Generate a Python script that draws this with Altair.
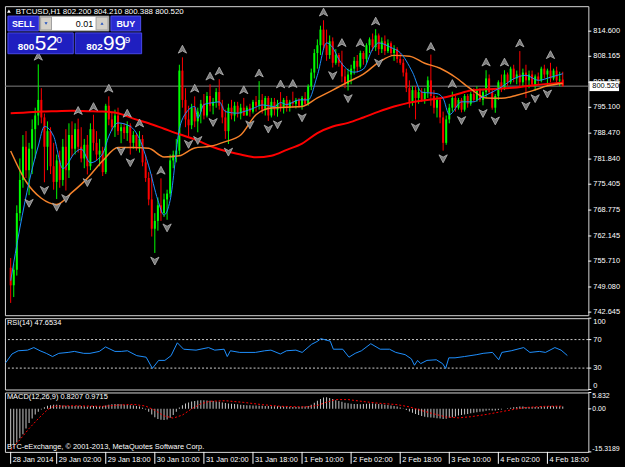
import altair as alt
import pandas as pd

# ---------------- data ----------------
opens = [754.0, 749.5, 753.5, 768.0, 776.5, 785.0, 779.0, 784.5, 789.5, 793.0,
         797.0, 792.5, 785.0, 789.0, 780.0, 776.0, 781.5, 776.5, 785.0, 779.0,
         788.0, 784.5, 789.5, 785.0, 782.0, 785.5, 780.0, 789.5, 786.0, 783.0,
         784.0, 778.5, 795.5, 792.0, 790.0, 793.0, 789.0, 790.0, 788.5, 790.5,
         786.0, 788.0, 785.0, 787.0, 781.0, 777.0, 771.5, 764.0, 766.0, 770.0,
         768.0, 771.5, 773.0, 781.5, 783.0, 784.0, 804.5, 797.0, 792.0, 790.5,
         795.0, 791.5, 794.0, 796.0, 793.0, 798.0, 795.5, 796.5, 799.0, 795.5,
         792.5, 789.0, 795.0, 793.0, 795.5, 793.5, 795.0, 793.0, 795.0, 794.0,
         796.5, 795.5, 797.0, 794.5, 797.5, 793.0, 796.5, 794.5, 796.0, 795.0,
         797.0, 795.0, 796.5, 796.0, 797.0, 795.5, 797.5, 796.0, 800.5, 804.0,
         809.0, 811.0, 815.0, 811.0, 808.5, 812.0, 806.5, 808.5, 806.5, 803.0,
         801.0, 803.5, 805.0, 807.0, 805.5, 809.0, 807.5, 811.0, 812.5, 810.5,
         813.5, 810.0, 812.0, 809.5, 811.5, 809.0, 810.0, 807.5, 806.5, 804.0,
         800.0, 796.5, 799.5, 797.5, 799.0, 797.0, 799.0, 802.0, 798.0, 795.0,
         797.0, 792.5, 786.0, 792.0, 795.0, 797.5, 795.0, 797.0, 794.5, 798.0,
         796.0, 798.5, 797.0, 799.5, 797.0, 799.0, 802.5, 799.0, 795.0, 798.0,
         801.5, 800.0, 803.5, 801.5, 805.0, 802.5, 803.5, 801.5, 804.0, 802.0,
         803.5, 801.0, 803.0, 802.0, 805.0, 803.5, 804.5, 802.5, 804.5, 802.0,
         802.2]
highs = [756.5, 755.0, 770.0, 782.0, 788.0, 789.0, 786.0, 792.0, 795.0, 806.1,
         800.0, 793.5, 791.5, 790.0, 786.0, 783.0, 784.0, 787.0, 789.5, 791.0,
         791.5, 791.0, 792.2, 790.0, 787.0, 788.0, 791.0, 793.2, 789.0, 787.0,
         785.0, 796.0, 797.9, 794.0, 794.5, 795.0, 791.0, 791.0, 791.5, 791.0,
         789.0, 788.5, 789.0, 788.0, 783.0, 778.5, 778.0, 768.0, 772.0, 776.9,
         773.0, 774.0, 783.0, 784.0, 787.0, 806.0, 807.9, 800.0, 795.5, 796.0,
         797.9, 795.0, 797.0, 798.5, 799.0, 801.0, 797.5, 800.0, 802.3, 797.0,
         794.5, 796.0, 797.0, 796.5, 796.5, 796.0, 797.5, 795.5, 796.0, 797.0,
         798.0, 801.8, 798.5, 798.0, 798.0, 797.5, 797.5, 797.0, 799.0, 797.5,
         798.0, 797.0, 799.1, 797.5, 797.5, 798.0, 799.0, 801.0, 805.0, 810.0,
         812.5, 816.0, 817.4, 815.0, 813.5, 813.0, 810.0, 809.0, 809.6, 805.0,
         805.0, 806.0, 808.0, 808.5, 809.6, 809.5, 811.5, 813.0, 814.0, 815.1,
         814.0, 813.0, 813.5, 812.5, 812.0, 811.0, 810.5, 809.0, 807.5, 805.0,
         802.0, 800.5, 800.5, 800.0, 800.0, 800.0, 803.0, 808.6, 799.5, 798.0,
         797.5, 794.0, 793.0, 796.0, 799.1, 798.0, 797.5, 797.5, 798.5, 798.5,
         799.0, 800.0, 800.5, 800.0, 799.5, 804.6, 803.5, 800.0, 798.5, 802.0,
         803.5, 804.6, 804.0, 805.5, 806.0, 804.5, 809.5, 805.0, 806.0, 804.5,
         804.5, 803.5, 804.0, 805.5, 806.0, 805.0, 806.5, 805.0, 805.5, 804.2,
         804.21]
lows = [745.0, 746.5, 752.0, 766.0, 774.5, 777.0, 772.6, 778.0, 782.0, 790.5,
        791.0, 775.9, 779.0, 778.0, 774.0, 771.6, 774.5, 775.0, 773.8, 777.0,
        782.5, 783.0, 783.5, 781.0, 779.5, 777.9, 779.0, 784.0, 781.5, 780.0,
        777.5, 778.0, 790.5, 789.0, 787.5, 788.0, 785.9, 787.0, 786.5, 783.0,
        784.5, 784.0, 783.5, 780.0, 776.0, 770.0, 762.0, 757.8, 763.5, 766.0,
        767.0, 766.3, 772.0, 779.5, 781.0, 783.0, 795.0, 790.0, 787.7, 789.5,
        790.0, 788.7, 791.0, 792.0, 792.5, 794.0, 793.3, 795.0, 794.5, 791.0,
        787.0, 785.7, 792.0, 791.5, 792.5, 792.0, 792.9, 793.0, 792.7, 793.5,
        794.0, 794.5, 793.5, 793.0, 791.6, 792.5, 793.0, 792.7, 794.0, 793.5,
        794.0, 794.0, 795.0, 794.8, 795.0, 794.5, 795.5, 795.5, 799.5, 802.5,
        805.0, 808.5, 810.0, 807.0, 807.5, 805.3, 806.0, 805.5, 801.5, 800.0,
        799.4, 801.0, 803.5, 804.0, 805.0, 806.0, 806.5, 809.0, 809.5, 809.5,
        808.5, 809.0, 808.5, 809.0, 808.5, 807.0, 806.5, 806.0, 803.0, 799.0,
        795.0, 795.5, 792.0, 796.0, 796.5, 796.0, 797.5, 795.5, 793.5, 792.5,
        791.0, 784.0, 785.5, 791.0, 794.0, 794.0, 794.5, 793.8, 794.0, 795.0,
        795.5, 796.5, 796.5, 796.5, 795.6, 797.5, 798.5, 794.5, 793.7, 797.0,
        799.0, 799.5, 800.5, 801.0, 801.5, 801.0, 800.5, 800.5, 797.5, 800.0,
        800.5, 799.4, 801.0, 801.5, 802.5, 800.6, 801.5, 802.0, 801.5, 800.5,
        800.388]
closes = [749.5, 753.5, 768.0, 776.5, 785.0, 779.0, 784.5, 789.5, 793.0, 797.0,
          792.5, 785.0, 789.0, 780.0, 776.0, 781.5, 776.5, 785.0, 779.0, 788.0,
          784.5, 789.5, 785.0, 782.0, 785.5, 780.0, 789.5, 786.0, 783.0, 784.0,
          778.5, 795.5, 792.0, 790.0, 793.0, 789.0, 790.0, 788.5, 790.5, 786.0,
          788.0, 785.0, 787.0, 781.0, 777.0, 771.5, 764.0, 766.0, 770.0, 768.0,
          771.5, 773.0, 781.5, 783.0, 784.0, 804.5, 797.0, 792.0, 790.5, 795.0,
          791.5, 794.0, 796.0, 793.0, 798.0, 795.5, 796.5, 799.0, 795.5, 792.5,
          789.0, 795.0, 793.0, 795.5, 793.5, 795.0, 793.0, 795.0, 794.0, 796.5,
          795.5, 797.0, 794.5, 797.5, 793.0, 796.5, 794.5, 796.0, 795.0, 797.0,
          795.0, 796.5, 796.0, 797.0, 795.5, 797.5, 796.0, 800.5, 804.0, 809.0,
          811.0, 815.0, 811.0, 808.5, 812.0, 806.5, 808.5, 806.5, 803.0, 801.0,
          803.5, 805.0, 807.0, 805.5, 809.0, 807.5, 811.0, 812.5, 810.5, 813.5,
          810.0, 812.0, 809.5, 811.5, 809.0, 810.0, 807.5, 806.5, 804.0, 800.0,
          796.5, 799.5, 797.5, 799.0, 797.0, 799.0, 802.0, 798.0, 795.0, 797.0,
          792.5, 786.0, 792.0, 795.0, 797.5, 795.0, 797.0, 794.5, 798.0, 796.0,
          798.5, 797.0, 799.5, 797.0, 799.0, 802.5, 799.0, 795.0, 798.0, 801.5,
          800.0, 803.5, 801.5, 805.0, 802.5, 803.5, 801.5, 804.0, 802.0, 803.5,
          801.0, 803.0, 802.0, 805.0, 803.5, 804.5, 802.5, 804.5, 802.0, 802.2,
          800.52]

ma5_idx = list(range(0, 181, 5))
ma_red = [793.6, 793.75, 794.0, 794.1, 794.2, 794.1, 794.0, 793.6, 792.2, 791.0,
          789.6, 788.2, 786.9, 785.2, 783.9, 783.0, 782.3, 782.7, 784.2, 785.8,
          788.5, 790.2, 791.1, 792.5, 794.0, 795.3, 796.3, 796.9, 797.4, 798.3,
          799.4, 799.7, 799.9, 800.2, 800.7, 801.1, 801.4]
ma_orange = [783.9, 776.1, 771.8, 770.2, 773.3, 776.9, 781.4, 784.8, 784.8, 784.6,
             782.4, 782.7, 784.7, 785.1, 786.3, 788.0, 793.2, 794.9, 795.1, 795.3,
             797.5, 799.5, 801.6, 803.6, 806.6, 808.4, 808.2, 806.4, 805.1, 802.8,
             799.8, 797.5, 797.4, 798.2, 799.3, 800.6, 801.2]
blue_idx = [0, 3, 6, 9, 11, 14, 17, 21, 23, 26, 30, 32, 35, 39, 42, 45, 48, 50, 52, 55,
            57, 60, 61, 63, 66, 68, 70, 74, 76, 79, 82, 86, 88, 90, 94, 97, 100, 103, 105, 107,
            112, 115, 118, 120, 124, 127, 131, 134, 139, 141, 143, 147, 151, 153, 156, 160, 164, 168, 172, 176,
            180]
blue_val = [750.7, 764.2, 775.9, 785.2, 790.2, 787.7, 779.4, 783.5, 784.4, 780.9,
            783.2, 787.7, 791.1, 790.2, 787.0, 780.1, 771.3, 767.5, 771.3, 789.5,
            793.5, 795.3, 792.3, 795.8, 796.3, 796.5, 794.0, 793.6, 794.0, 794.8,
            795.7, 795.3, 796.3, 795.8, 797.0, 797.0, 803.3, 811.6, 810.4, 807.4,
            804.1, 804.9, 810.0, 811.6, 810.4, 809.1, 804.1, 799.0, 798.6, 797.4,
            793.2, 796.5, 796.5, 797.4, 798.6, 800.3, 802.4, 803.3, 802.0, 802.8,
            803.7]
frac_up_idx = [9, 22, 27, 32, 38, 42, 49, 56, 60, 65, 68, 76, 81, 88, 92, 102, 108, 114,
               119, 137, 144, 155, 161, 166, 176]
frac_dn_idx = [6, 11, 15, 18, 25, 36, 39, 47, 51, 58, 61, 66, 71, 78, 84, 87, 95, 105,
               110, 120, 132, 141, 147, 154, 158, 168, 171, 175]

rsi_idx = [0, 2, 4, 7, 9, 11, 13, 15, 17, 20, 22, 25, 27, 30, 32, 35, 37, 39, 42, 45,
           47, 49, 51, 53, 55, 57, 61, 65, 67, 70, 71, 72, 75, 80, 83, 85, 88, 90, 93, 95,
           98, 100, 101, 104, 105, 108, 110, 112, 114, 117, 120, 123, 125, 128, 130, 131, 132, 133, 135, 138,
           140, 141, 142, 144, 147, 151, 153, 156, 158, 159, 162, 166, 168, 171, 173, 176, 178, 180]
rsi_val = [37.6, 49.8, 54.3, 55.2, 58.8, 54.3, 50.7, 46.2, 50.7, 52.0,
           53.4, 50.7, 50.7, 53.4, 59.7, 53.4, 53.4, 54.3, 47.5, 45.3,
           29.6, 40.8, 40.8, 47.5, 65.5, 56.5, 55.2, 58.8, 55.2, 56.5,
           46.2, 54.3, 52.0, 52.0, 54.3, 55.2, 49.8, 54.3, 55.2, 52.0,
           63.3, 67.8, 71.3, 67.8, 56.5, 56.5, 45.3, 50.7, 54.3, 64.2,
           56.5, 56.5, 52.0, 48.9, 43.0, 34.0, 40.8, 36.3, 40.8, 41.7,
           36.3, 29.6, 44.4, 44.4, 46.2, 48.9, 50.7, 52.0, 41.7, 52.0,
           54.3, 58.8, 52.0, 53.4, 52.0, 58.8, 55.2, 47.6534]
rsi_levels = [30, 70]
rsi_ticks = [100, 70, 30, 0]

macd_hist = [-13.1, -12.5, -12.0, -10.5, -9.0, -7.0, -5.0, -3.4, -2.0, -1.0, -0.2, 0.6, 1.1,
             1.3, 1.5, 1.5, 1.4, 1.2, 1.1, 1.0, 1.0, 1.0, 1.1, 1.0, 0.9, 0.8, 0.9, 1.0, 0.9,
             0.8, 0.9, 1.2, 1.5, 1.6, 1.7, 1.7, 1.6, 1.5, 1.4, 1.3, 1.2, 1.0, 0.8, 0.4, -0.2, -1.0,
             -2.0, -3.0, -3.6, -3.9, -4.0, -3.8, -3.2, -2.2, -1.0, 0.5,
             1.3, 1.9, 2.3, 2.6, 2.8, 3.0, 3.1, 3.1, 3.0, 2.9, 2.8, 2.6, 2.5, 2.3, 2.1,
             1.9, 1.8, 1.7, 1.6, 1.5, 1.4, 1.3, 1.3, 1.2, 1.2, 1.1, 1.1, 1.0, 1.0, 0.9, 0.9,
             0.9, 0.8, 0.8, 0.8, 0.7, 0.7, 0.7, 0.7, 0.8, 0.8, 1.0,
             1.5, 2.2, 2.9, 3.5, 4.0, 4.1, 3.9, 3.5,
             3.1, 2.8, 2.5, 2.2, 2.0, 1.8, 1.7, 1.7, 1.6, 1.7, 1.8, 1.9, 1.9, 1.8, 1.7, 1.6,
             1.5, 1.4, 1.2, 1.0, 0.8, 0.5, 0.1, -0.4, -0.9,
             -1.4, -1.8, -2.2, -2.5, -2.8, -3.0, -3.1, -3.2, -3.3, -3.4, -3.6, -3.5, -3.2,
             -3.0, -2.7, -2.4, -2.2, -2.0, -1.8, -1.6, -1.4, -1.2, -1.0, -0.9, -0.7,
             -0.5, -0.6, -0.6, -0.4, -0.2, 0.0, 0.2, 0.4, 0.6, 0.7, 0.8, 0.8, 0.7, 0.7,
             0.7, 0.7, 0.7, 0.8, 0.8, 0.9, 0.9, 0.9, 0.9, 0.9, 0.8207]
sig_idx = [0, 3, 6, 9, 12, 14, 20, 30, 36, 40, 44, 47, 50, 53, 56, 59, 62, 65, 70, 76,
           82, 88, 96, 100, 103, 106, 110, 115, 120, 126, 130, 134, 138, 142, 146, 150, 155, 160, 164, 168,
           174, 180]
sig_val = [-14.7, -11.0, -7.0, -3.5, -0.3, 0.9, 1.1, 0.9, 1.4, 1.6,
           1.0, -0.5, -2.5, -3.3, -2.2, 0.0, 1.8, 2.7, 2.9, 2.3,
           1.5, 0.9, 0.7, 1.2, 2.4, 3.3, 3.3, 2.6, 2.0, 1.5,
           0.7, -0.6, -1.8, -2.9, -3.2, -2.8, -2.0, -1.0, -0.2, 0.5,
           0.9, 0.9715]
macd_ticks = [5.832, 0.0, -15.3189]
macd_tick_labels = ["5.832", "0.00", "-15.3189"]

price_ticks = [814.600, 808.165, 801.535, 795.100, 788.470, 781.840, 775.405,
               768.775, 762.145, 755.710, 749.080, 742.645]
time_tick_idx = [0, 15, 31, 47, 63, 79, 95, 111, 127, 143, 159, 175]
time_tick_labels = ["28 Jan 2014", "29 Jan 02:00", "29 Jan 18:00", "30 Jan 10:00",
                    "31 Jan 02:00", "31 Jan 18:00", "1 Feb 10:00", "2 Feb 02:00",
                    "2 Feb 18:00", "3 Feb 10:00", "4 Feb 02:00", "4 Feb 18:00"]
symbol = "BTCUSD,H1"
bid, ask = 800.520, 802.999
lot = "0.01"

# ---------------- frames ----------------
N = len(closes)
cdf = pd.DataFrame({"i": list(range(N)), "o": opens, "h": highs, "l": lows, "c": closes})
cdf["dir"] = ["up" if c >= o else "down" for o, c in zip(opens, closes)]
red_df = pd.DataFrame({"i": ma5_idx, "v": ma_red})
orange_df = pd.DataFrame({"i": ma5_idx, "v": ma_orange})
blue_df = pd.DataFrame({"i": blue_idx, "v": blue_val})
up_df = pd.DataFrame({"i": frac_up_idx, "p": [highs[k] for k in frac_up_idx]})
dn_df = pd.DataFrame({"i": frac_dn_idx, "p": [lows[k] for k in frac_dn_idx]})
rsi_df = pd.DataFrame({"i": rsi_idx, "v": rsi_val})
mdf = pd.DataFrame({"i": list(range(len(macd_hist))), "v": macd_hist})
sdf = pd.DataFrame({"i": sig_idx, "v": sig_val})
one = pd.DataFrame({"k": [0]})
bid_df = pd.DataFrame({"p": [bid]})

W = 589
H_MAIN, H_RSI, H_MACD = 312, 72, 60
FONT = "Liberation Sans"
WHITE = "#ffffff"
AX_FS = 7.5

xsc = alt.Scale(domain=[-0.25, 186.73], nice=False, zero=False)
ysc = alt.Scale(domain=[741.85, 821.0], nice=False, zero=False)
rsc = alt.Scale(domain=[0, 100], nice=False, zero=False)
msc = alt.Scale(domain=[-15.3189, 5.832], nice=False, zero=False)

X = alt.X("i:Q", scale=xsc, axis=None)


def txt(x, y, s, size=8, color=WHITE, align="left", baseline="middle", weight="normal"):
    return alt.Chart(one).mark_text(font=FONT, fontSize=size, color=color, align=align,
                                    baseline=baseline, fontWeight=weight).encode(
        x=alt.value(x), y=alt.value(y), text=alt.value(s))


def box(x1, x2, y1, y2, fill, stroke):
    return alt.Chart(one).mark_rect(fill=fill, stroke=stroke, strokeWidth=1).encode(
        x=alt.value(x1), x2=alt.value(x2), y=alt.value(y1), y2=alt.value(y2))


def right_axis(df, scale, baseline="middle", fs=AX_FS, lx=W + 5):
    """Tick marks and labels on the right edge, placed through the panel's y scale."""
    tk = alt.Chart(df).mark_rule(color=WHITE, strokeWidth=1).encode(
        x=alt.value(W), x2=alt.value(W + 3), y=alt.Y("v:Q", scale=scale, axis=None))
    lb = alt.Chart(df).mark_text(font=FONT, fontSize=fs, color=WHITE, align="left",
                                 baseline=baseline).encode(
        x=alt.value(lx), y=alt.Y("v:Q", scale=scale, axis=None), text="t:N")
    return [tk, lb]


col = alt.Color("dir:N", scale=alt.Scale(domain=["up", "down"], range=["#00ff00", "#ff0000"]),
                legend=None)

# ---------------- main panel ----------------
bid_line = alt.Chart(bid_df).mark_rule(color="#808080", strokeWidth=1).encode(
    y=alt.Y("p:Q", scale=ysc, axis=None))
wicks = alt.Chart(cdf).mark_rule(strokeWidth=1).encode(
    x=X, y=alt.Y("l:Q", scale=ysc, axis=None), y2="h:Q", color=col)
bodies = alt.Chart(cdf).mark_bar(size=2).encode(
    x=X, y=alt.Y("o:Q", scale=ysc, axis=None), y2="c:Q", color=col)
red_line = alt.Chart(red_df).mark_line(color="#ff0000", strokeWidth=2, interpolate="monotone").encode(
    x=X, y=alt.Y("v:Q", scale=ysc, axis=None))
orange_line = alt.Chart(orange_df).mark_line(color="#f5822a", strokeWidth=1.5, interpolate="monotone").encode(
    x=X, y=alt.Y("v:Q", scale=ysc, axis=None))
blue_line = alt.Chart(blue_df).mark_line(color="#1e90ff", strokeWidth=1, interpolate="monotone").encode(
    x=X, y=alt.Y("v:Q", scale=ysc, axis=None))
up_path = "M0,-1L1,0.9L0,0.35L-1,0.9Z"
dn_path = "M0,1L1,-0.9L0,-0.35L-1,-0.9Z"
fr_up = alt.Chart(up_df).mark_point(shape=up_path, filled=True, size=70, fill="#7a7a7a",
                                    stroke="#b8b8b8", strokeWidth=0.8, opacity=1, yOffset=-8).encode(
    x=X, y=alt.Y("p:Q", scale=ysc, axis=None))
fr_dn = alt.Chart(dn_df).mark_point(shape=dn_path, filled=True, size=70, fill="#7a7a7a",
                                    stroke="#b8b8b8", strokeWidth=0.8, opacity=1, yOffset=8).encode(
    x=X, y=alt.Y("p:Q", scale=ysc, axis=None))

price_df = pd.DataFrame({"v": price_ticks, "t": [f"{p:.3f}" for p in price_ticks]})
price_axis = right_axis(price_df, ysc)

bid_box = alt.Chart(bid_df).mark_rule(color="#ffffff", strokeWidth=10).encode(
    x=alt.value(W + 1), x2=alt.value(W + 31), y=alt.Y("p:Q", scale=ysc, axis=None))
bid_txt = alt.Chart(bid_df).mark_text(font=FONT, fontSize=AX_FS, color="#000000", align="left",
                                      baseline="middle").encode(
    x=alt.value(W + 4), y=alt.Y("p:Q", scale=ysc, axis=None), text=alt.Text("p:Q", format=".3f"))

header = f"{symbol} {opens[-1]:.3f} {highs[-1]:.3f} {lows[-1]:.3f} {closes[-1]:.3f}"
bid_s = f"{bid:.3f}"
ask_s = f"{ask:.3f}"
ui = [
    alt.Chart(one).mark_point(shape="triangle-up", filled=True, size=14, color=WHITE, opacity=1).encode(
        x=alt.value(4), y=alt.value(5)),
    txt(11, 5.5, header, size=8),
    box(3, 34, 10, 25, "#2a2ad2", "#5050f0"),
    box(35, 105, 10, 25, "#ffffff", "#808080"),
    box(36, 47, 11, 24, "#d4d0c8", "#a0a0a0"),
    box(92, 104, 11, 24, "#d4d0c8", "#a0a0a0"),
    box(107, 137, 10, 25, "#2a2ad2", "#5050f0"),
    box(3, 69, 27, 48, "#1f1fc0", "#4848e8"),
    box(71, 138, 27, 48, "#1f1fc0", "#4848e8"),
    alt.Chart(one).mark_point(shape="triangle-down", filled=True, size=10, color="#2050c0", opacity=1).encode(
        x=alt.value(41.5), y=alt.value(17.5)),
    alt.Chart(one).mark_point(shape="triangle-up", filled=True, size=10, color="#2050c0", opacity=1).encode(
        x=alt.value(98), y=alt.value(17.5)),
    txt(18.5, 18, "SELL", size=9, align="center", weight="bold"),
    txt(89, 18, lot, size=9, color="#000000", align="right"),
    txt(122, 18, "BUY", size=9, align="center", weight="bold"),
    txt(13, 44, bid_s[:3], size=10, baseline="alphabetic", weight="bold"),
    txt(30, 44, bid_s[4:6], size=21, baseline="alphabetic"),
    txt(52, 37, bid_s[6], size=10, baseline="alphabetic"),
    txt(82, 44, ask_s[:3], size=10, baseline="alphabetic", weight="bold"),
    txt(99, 44, ask_s[4:6], size=21, baseline="alphabetic"),
    txt(121, 37, ask_s[6], size=10, baseline="alphabetic"),
]

main = alt.layer(bid_line, wicks, bodies, red_line, orange_line, blue_line, fr_up, fr_dn,
                 *ui, *price_axis, bid_box, bid_txt).properties(width=W, height=H_MAIN)

# ---------------- RSI panel ----------------
lev = alt.Chart(pd.DataFrame({"v": rsi_levels})).mark_rule(color="#d0d0d0", strokeDash=[2, 2],
                                                           strokeWidth=1).encode(
    y=alt.Y("v:Q", scale=rsc, axis=None))
rsi_line = alt.Chart(rsi_df).mark_line(color="#1e90ff", strokeWidth=1).encode(
    x=X, y=alt.Y("v:Q", scale=rsc, axis=None))
rsi_t = pd.DataFrame({"v": rsi_ticks, "t": [str(v) for v in rsi_ticks]})
rsi_axis = (right_axis(rsi_t.iloc[[0]], rsc, baseline="top")
            + right_axis(rsi_t.iloc[1:-1], rsc)
            + right_axis(rsi_t.iloc[[-1]], rsc, baseline="bottom"))
rsi = alt.layer(lev, rsi_line, *rsi_axis,
                txt(2, 5, f"RSI(14) {rsi_val[-1]:.4f}", size=AX_FS)).properties(
    width=W, height=H_RSI)

# ---------------- MACD panel ----------------
hist = alt.Chart(mdf).mark_bar(size=1, color="#c8c8c8").encode(
    x=X, y=alt.Y("v:Q", scale=msc, axis=None), y2=alt.datum(0))
sig = alt.Chart(sdf).mark_line(color="#ff0000", strokeDash=[2, 2], strokeWidth=1).encode(
    x=X, y=alt.Y("v:Q", scale=msc, axis=None))
m_t = pd.DataFrame({"v": macd_ticks, "t": macd_tick_labels})
macd_axis = (right_axis(m_t.iloc[[0]], msc, baseline="top", fs=7, lx=W + 4)
             + right_axis(m_t.iloc[1:-1], msc, fs=7, lx=W + 4)
             + right_axis(m_t.iloc[[-1]], msc, baseline="bottom", fs=7, lx=W + 4))

time_df = pd.DataFrame({"i": time_tick_idx, "t": time_tick_labels})
time_ticks = alt.Chart(time_df).mark_rule(color=WHITE, strokeWidth=1).encode(
    x=X, y=alt.value(H_MACD), y2=alt.value(H_MACD + 12))
time_lbls = alt.Chart(time_df).mark_text(font=FONT, fontSize=AX_FS, color=WHITE, align="left",
                                         baseline="top", dx=2).encode(
    x=X, y=alt.value(H_MACD + 4), text="t:N")

macd = alt.layer(
    hist, sig, *macd_axis, time_ticks, time_lbls,
    txt(2, 5, f"MACD(12,26,9) {macd_hist[-1]:.4f} {sig_val[-1]:.4f}", size=AX_FS),
    txt(2, 55, "BTC-eExchange, © 2001-2013, MetaQuotes Software Corp.", size=AX_FS),
).properties(width=W, height=H_MACD)

chart = alt.vconcat(main, rsi, macd, spacing=3, bounds="flush").properties(
    background="#000000",
    padding={"left": 3, "top": 3, "right": 0, "bottom": 0},
).configure_view(stroke="#d8d8d8", strokeWidth=1)

chart.save("out.html", embed_options={"renderer": "svg", "actions": False})
